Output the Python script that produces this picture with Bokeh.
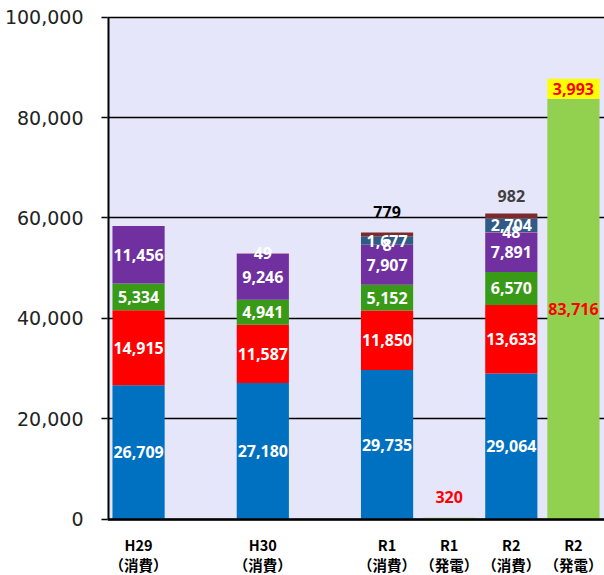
import numpy as np
from bokeh.plotting import figure
from bokeh.models import ColumnDataSource, FixedTicker, NumeralTickFormatter, Range1d, BoxAnnotation
from bokeh.core.properties import value
from bokeh.embed import file_html
from bokeh.resources import INLINE

# ---- data ----
x_pos = [0, 2, 4, 5, 6, 7]
tick_line1 = ["H29", "H30", "R1", "R1", "R2", "R2"]
tick_line2 = ["（消費）", "（消費）", "（消費）", "（発電）", "（消費）", "（発電）"]
y_ticks = [0, 20000, 40000, 60000, 80000, 100000]

s_blue = [26709, 27180, 29735, 0, 29064, 0]
s_red = [14915, 11587, 11850, 0, 13633, 0]
s_green = [5334, 4941, 5152, 0, 6570, 0]
s_purple = [11456, 9246, 7907, 0, 7891, 0]
s_orange = [0, 49, 8, 0, 48, 0]
s_navy = [0, 0, 1677, 0, 2704, 0]
s_maroon = [0, 0, 779, 0, 982, 0]
s_gen = [0, 0, 0, 320, 0, 83716]
s_yellow = [0, 0, 0, 0, 0, 3993]

names = ["blue", "red", "green", "purple", "orange", "navy", "maroon", "gen", "yellow"]
series = [s_blue, s_red, s_green, s_purple, s_orange, s_navy, s_maroon, s_gen, s_yellow]
colors = ["#0070C0", "#FF0000", "#399A17", "#7030A0", "#F4B183", "#2F5B86", "#7B2B2B", "#92D050", "#FFFF00"]

data = {"x": x_pos}
for n, s in zip(names, series):
    data[n] = s
src = ColumnDataSource(data)

X0, X1 = -0.5, 7.5
Y0, Y1 = -11150, 100300
p = figure(width=604, height=575, x_range=Range1d(X0, X1), y_range=Range1d(Y0, Y1),
           output_backend="svg", toolbar_location=None,
           min_border_left=107, min_border_right=0, min_border_top=15, min_border_bottom=0)
p.background_fill_color = "white"
p.border_fill_color = "white"
p.outline_line_color = None

# plot-area background (0 .. 100,000)
p.add_layout(BoxAnnotation(bottom=0, top=y_ticks[-1], fill_color="#E6E6FA", fill_alpha=1,
                           line_color=None, level="image"))

p.vbar_stack(names, x="x", width=0.84, color=colors, source=src, line_color=None)

# axis lines (value axis stops at 0)
p.segment(x0=[X0], y0=[0], x1=[X0], y1=[y_ticks[-1]], line_color="black", line_width=4)
p.segment(x0=[X0], y0=[0], x1=[X1], y1=[0], line_color="black", line_width=2.5)

# ---- labels ----
arr = np.array(series, dtype=float)
cum = np.cumsum(arr, axis=0)
bottoms = cum - arr
tops = cum[-1]

FS = "16px"
wx, wy, wt = [], [], []
for i in range(6):  # white labels inside consumption segments
    for j, x in enumerate(x_pos):
        v = arr[i, j]
        if v > 0:
            wx.append(x)
            wy.append(bottoms[i, j] + v / 2)
            wt.append(f"{int(v):,}")
p.text(x=wx, y=wy, text=wt, text_color="white", text_font=value("Open Sans"), text_font_style="bold",
       text_font_size=FS, text_align="center", text_baseline="middle")

# labels above bars
j1, j2, jg = 2, 4, 3
p.text(x=[x_pos[j1]], y=[tops[j1]], text=[f"{int(arr[6, j1]):,}"], text_color="black",
       text_font=value("Open Sans"), text_font_style="bold", text_font_size=FS,
       text_align="center", text_baseline="middle", y_offset=-21)
p.text(x=[x_pos[j2]], y=[tops[j2]], text=[f"{int(arr[6, j2]):,}"], text_color="#404040",
       text_font=value("Open Sans"), text_font_style="bold", text_font_size=FS,
       text_align="center", text_baseline="middle", y_offset=-18)
p.text(x=[x_pos[jg]], y=[tops[jg]], text=[f"{int(arr[7, jg]):,}"], text_color="#FF0000",
       text_font=value("Open Sans"), text_font_style="bold", text_font_size=FS,
       text_align="center", text_baseline="middle", y_offset=-21)
# generation labels inside R2 (発電)
j = 5
p.text(x=[x_pos[j], x_pos[j]], y=[bottoms[7, j] + arr[7, j] / 2, bottoms[8, j] + arr[8, j] / 2],
       text=[f"{int(arr[7, j]):,}", f"{int(arr[8, j]):,}"], text_color="#FF0000",
       text_font=value("Open Sans"), text_font_style="bold", text_font_size=FS,
       text_align="center", text_baseline="middle")

# ---- category labels below the zero line ----
p.text(x=x_pos, y=[0] * len(x_pos), text=tick_line1, text_color="black",
       text_font=value("Noto Sans CJK JP"), text_font_style="bold", text_font_size="14.5px",
       text_align="center", text_baseline="middle", y_offset=25)
p.text(x=x_pos, y=[0] * len(x_pos), text=tick_line2, text_color="black",
       text_font=value("Noto Sans CJK JP"), text_font_style="bold", text_font_size="14.5px",
       text_align="center", text_baseline="middle", y_offset=45)

# ---- axes ----
p.yaxis.ticker = FixedTicker(ticks=y_ticks)
p.yaxis.formatter = NumeralTickFormatter(format="0,0")
p.yaxis.axis_line_color = None
p.yaxis.major_tick_in = 0
p.yaxis.major_tick_out = 6
p.yaxis.major_tick_line_width = 1.5
p.yaxis.minor_tick_line_color = None
p.yaxis.major_label_text_font = "DejaVu Sans"
p.yaxis.major_label_text_font_size = "19px"
p.yaxis.major_label_text_color = "#222222"
p.yaxis.major_label_standoff = 18

p.xaxis.visible = False

p.xgrid.grid_line_color = None
p.ygrid.ticker = FixedTicker(ticks=y_ticks)
p.ygrid.grid_line_color = "black"
p.ygrid.grid_line_width = 1.5

open("out.html", "w").write(file_html(p, INLINE))
